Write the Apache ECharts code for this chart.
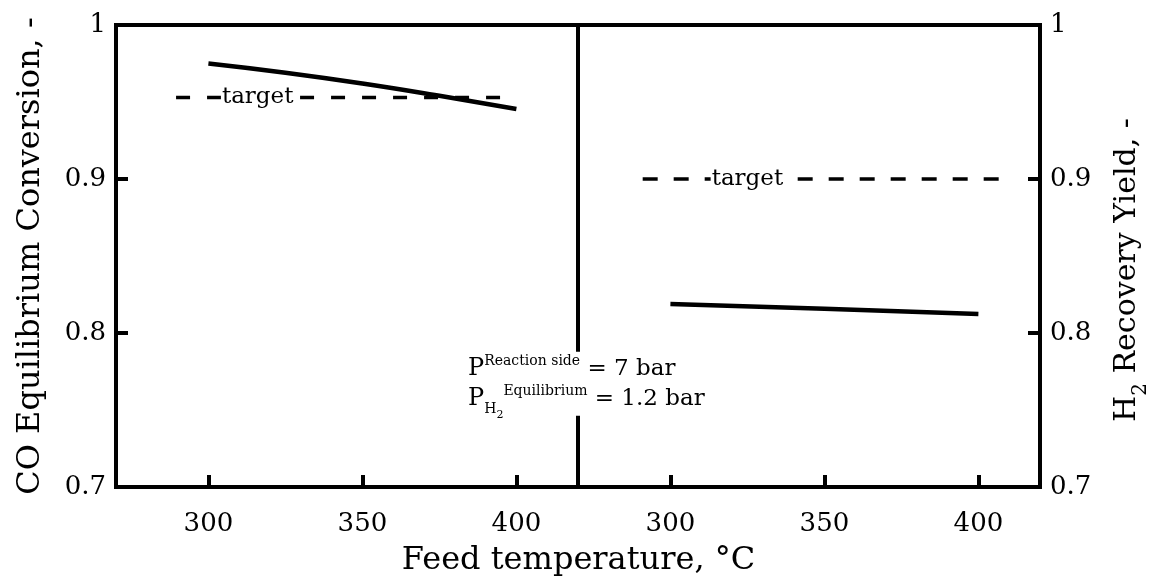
<!DOCTYPE html>
<html><head><meta charset="utf-8">
<script src="https://cdn.jsdelivr.net/npm/echarts@6/dist/echarts.min.js"></script>
<style>html,body{margin:0;padding:0;background:#fff}#c{width:1157px;height:581px}</style>
</head><body><div id="c"></div>
<script>
// ---- data ----
const xTicks = [300, 350, 400];
const yTicks = [0.7, 0.8, 0.9, 1];
const coTemps = [300, 325, 350, 375, 400];
const coConversion = [0.975, 0.969, 0.962, 0.954, 0.9455];
const coTargetX = [289.5, 396];
const coTargetY = [0.953, 0.953];
const h2Temps = [300, 350, 400];
const h2Yield = [0.8188, 0.8157, 0.8123];
const h2TargetX = [291, 409];
const h2TargetY = [0.9, 0.9];
const labelTargetCO = [316, 0.953];
const labelTargetH2 = [325, 0.9];
const notePos = [384.3, 0.767];

const FF = 'DejaVu Serif';
const FS = 26;
const zip = (a, b) => a.map((v, i) => [v, b[i]]);

const chart = echarts.init(document.getElementById('c'), null, {renderer: 'canvas'});

function xAx(gi) {
  return {
    type: 'value', gridIndex: gi, min: 270, max: 420,
    axisLine: {show: false}, splitLine: {show: false},
    axisTick: {show: true, inside: true, length: 12, customValues: xTicks, lineStyle: {color: '#000', width: 4}},
    axisLabel: {show: true, customValues: xTicks, margin: 24, color: '#000', fontFamily: FF, fontSize: FS}
  };
}
function yAx(gi, pos, name, gap, fs, pad) {
  return {
    type: 'value', gridIndex: gi, min: 0.7, max: 1, position: pos,
    axisLine: {show: false}, splitLine: {show: false},
    axisTick: {show: true, inside: true, length: 12, customValues: yTicks, lineStyle: {color: '#000', width: 4}},
    axisLabel: {show: true, customValues: yTicks, margin: 10, color: '#000', fontFamily: FF, fontSize: FS,
      formatter: v => String(Math.round(v * 10) / 10)},
    name: name, nameLocation: 'middle', nameRotate: 90, nameGap: gap,
    nameTextStyle: {color: '#000', fontFamily: FF, fontSize: fs, padding: pad,
      rich: {n: {fontFamily: FF, fontSize: fs, color: '#000'}, s: {fontFamily: FF, fontSize: Math.round(fs * 0.68), color: '#000', verticalAlign: 'bottom', padding: [0, 0, -9, 0]}}}
  };
}

const option = {
  backgroundColor: '#fff',
  animation: false,
  title: {text: 'Feed temperature, °C', left: 'center', top: 540,
    textStyle: {fontFamily: FF, fontSize: 32, fontWeight: 'normal', color: '#000'}},
  grid: [
    {left: 116, top: 25, width: 462, height: 462, show: true, borderColor: '#000', borderWidth: 4, backgroundColor: 'transparent'},
    {left: 578, top: 25, width: 462, height: 462, show: true, borderColor: '#000', borderWidth: 4, backgroundColor: 'transparent'}
  ],
  xAxis: [xAx(0), xAx(1)],
  yAxis: [
    yAx(0, 'left', 'CO Equilibrium Conversion, -', 69, 32, 0),
    yAx(1, 'right', '{n|H}{s|2}{n| Recovery Yield, -}', 72, 30, [0, 28, 0, 0])
  ],
  series: [
    {type: 'line', xAxisIndex: 0, yAxisIndex: 0, data: zip(coTemps, coConversion), smooth: true, showSymbol: false,
      lineStyle: {color: '#000', width: 4.5}, z: 3,
      markPoint: {symbolSize: 0, silent: true, data: [{coord: notePos}],
        label: {show: true, position: 'right', distance: 0, backgroundColor: '#fff', padding: [2, 4, 2, 0],
          formatter: '{p|P}{sup|Reaction side}{t| = 7 bar}\n{p|P}{sub|H}{sub2|2}{sup|Equilibrium}{t| = 1.2 bar}',
          rich: {
            p: {fontFamily: FF, fontSize: 24, color: '#000', lineHeight: 30},
            t: {fontFamily: FF, fontSize: 23, color: '#000', lineHeight: 30},
            sup: {fontFamily: FF, fontSize: 14, color: '#000', verticalAlign: 'top', padding: [1, 0, 0, 0]},
            sub: {fontFamily: FF, fontSize: 14, color: '#000', verticalAlign: 'bottom', padding: [0, 0, -3, 0]},
            sub2: {fontFamily: FF, fontSize: 11, color: '#000', verticalAlign: 'bottom', padding: [0, 0, -7, 0]}
          }}}},
    {type: 'line', xAxisIndex: 0, yAxisIndex: 0, data: zip(coTargetX, coTargetY), showSymbol: false,
      lineStyle: {color: '#000', width: 3.5, type: [14, 17]}, z: 2,
      markPoint: {symbolSize: 0, silent: true, data: [{coord: labelTargetCO}],
        label: {show: true, position: 'inside', formatter: 'target', backgroundColor: '#fff', padding: [0, 1],
          fontFamily: FF, fontSize: 23, color: '#000'}}},
    {type: 'line', xAxisIndex: 1, yAxisIndex: 1, data: zip(h2Temps, h2Yield), showSymbol: false,
      lineStyle: {color: '#000', width: 4.5}, z: 3},
    {type: 'line', xAxisIndex: 1, yAxisIndex: 1, data: zip(h2TargetX, h2TargetY), showSymbol: false,
      lineStyle: {color: '#000', width: 3.5, type: [15, 16]}, z: 2,
      markPoint: {symbolSize: 0, silent: true, data: [{coord: labelTargetH2}],
        label: {show: true, position: 'inside', formatter: 'target', backgroundColor: '#fff', padding: [0, 1],
          fontFamily: FF, fontSize: 23, color: '#000'}}}
  ]
};
chart.setOption(option);
</script></body></html>
